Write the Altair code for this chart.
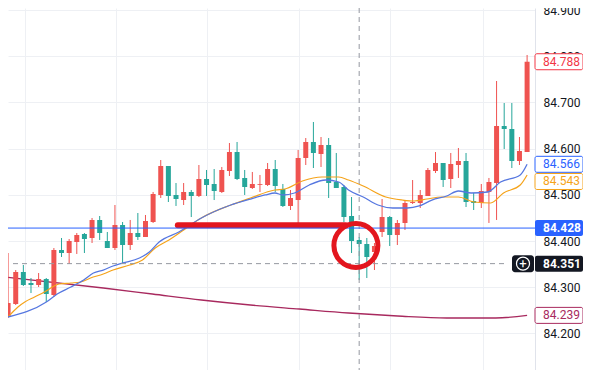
import altair as alt
import pandas as pd

# ---- candle data (index 0..68) ----
opens = [84.2355, 84.2636, 84.3329, 84.3091, 84.3048, 84.3177, 84.2831, 84.3805, 84.3740, 84.3978,
         84.4152, 84.4065, 84.4455, 84.4000, 84.3848, 84.4346, 84.3913, 84.4173, 84.4087, 84.4411,
         84.4996, 84.5623, 84.4996, 84.4887, 84.5061, 84.4974, 84.5342, 84.5234, 84.5061, 84.5515,
         84.5926, 84.5364, 84.5147, 84.5212, 84.5212, 84.5558, 84.5126, 84.4758, 84.4887, 84.5797,
         84.6143, 84.5883, 84.6078, 84.5277, 84.5169, 84.4541, 84.4022, 84.3935, 84.3762, 84.4195,
         84.4519, 84.4130, 84.4390, 84.4823, 84.4823, 84.4974, 84.5515, 84.5688, 84.5342, 84.5645,
         84.5732, 84.4866, 84.4823, 84.5061, 84.5255, 84.6489, 84.6424, 84.5732, 84.5926]
highs = [84.3740, 84.3372, 84.3481, 84.3199, 84.3307, 84.3199, 84.3848, 84.4065, 84.4043, 84.4173,
         84.4173, 84.4498, 84.4541, 84.4195, 84.4779, 84.4411, 84.4455, 84.4606, 84.4563, 84.5061,
         84.5753, 84.5623, 84.5255, 84.5255, 84.5104, 84.5645, 84.5537, 84.5558, 84.5602, 84.6121,
         84.6143, 84.5537, 84.5494, 84.5429, 84.5688, 84.5753, 84.5234, 84.5104, 84.5970, 84.6229,
         84.6576, 84.6251, 84.6229, 84.5905, 84.5212, 84.4952, 84.4087, 84.4065, 84.3957, 84.4909,
         84.4541, 84.4455, 84.4866, 84.5320, 84.5104, 84.5580, 84.5926, 84.5688, 84.5905, 84.6013,
         84.5905, 84.5039, 84.5234, 84.5364, 84.7463, 84.6987, 84.6987, 84.6251, 84.8026]
lows = [84.2333, 84.2615, 84.3026, 84.2874, 84.3004, 84.2680, 84.2788, 84.3654, 84.3502, 84.3719,
        84.3740, 84.3957, 84.4022, 84.3848, 84.3805, 84.3524, 84.3805, 84.4022, 84.4087, 84.4390,
        84.4931, 84.4844, 84.4758, 84.4779, 84.4519, 84.4952, 84.4974, 84.4887, 84.5039, 84.5407,
        84.5320, 84.4996, 84.5126, 84.5061, 84.5190, 84.5061, 84.4736, 84.4671, 84.4346, 84.5645,
        84.5580, 84.5602, 84.4931, 84.5147, 84.4411, 84.3740, 84.3156, 84.3199, 84.3372, 84.4087,
        84.3892, 84.3913, 84.4238, 84.4801, 84.4714, 84.4974, 84.5472, 84.5169, 84.5147, 84.5364,
        84.4736, 84.4671, 84.4714, 84.4390, 84.4455, 84.5991, 84.5580, 84.5645, 84.5926]
closes = [84.2658, 84.3329, 84.3048, 84.3048, 84.3177, 84.2853, 84.3805, 84.3740, 84.4000, 84.4130,
          84.4043, 84.4455, 84.4173, 84.3848, 84.4346, 84.3913, 84.4173, 84.4087, 84.4433, 84.5017,
          84.5623, 84.4974, 84.4909, 84.5061, 84.4974, 84.5342, 84.5212, 84.5082, 84.5537, 84.5926,
          84.5342, 84.5169, 84.5234, 84.5230, 84.5558, 84.5190, 84.4758, 84.4931, 84.5797, 84.6143,
          84.5905, 84.6078, 84.5255, 84.5147, 84.4519, 84.4000, 84.3935, 84.3654, 84.3892, 84.4519,
          84.4130, 84.4390, 84.4823, 84.4844, 84.4996, 84.5537, 84.5688, 84.5320, 84.5667, 84.5732,
          84.4844, 84.4823, 84.5082, 84.5277, 84.6489, 84.6424, 84.5732, 84.5948, 84.788]

# ---- moving averages (read at candle-index positions) ----
blue_x = [0, 5.01, 6.43, 8.23, 9.9, 11.18, 12.47, 13.75, 15.04, 17.22,
          18.51, 19.79, 22.37, 25.32, 29.18, 31.75, 33.68, 34.96, 35.99, 37.53,
          39.46, 41.65, 43.32, 44.6, 46.53, 48.46, 50.39, 52.31, 53.86, 55.53,
          57.46, 58.99, 60.67, 62.85, 64.52, 67.1, 68]
blue_v = [84.2355, 84.2680, 84.2853, 84.3004, 84.3156, 84.3307, 84.3372, 84.3459, 84.3524, 84.3632,
          84.3762, 84.3978, 84.4195, 84.4498, 84.4779, 84.4909, 84.4996, 84.5039, 84.4996, 84.5039,
          84.5212, 84.5320, 84.5277, 84.5104, 84.4952, 84.4779, 84.4714, 84.4714, 84.4758, 84.4887,
          84.4974, 84.5082, 84.5039, 84.5061, 84.5277, 84.5429, 84.566]
orange_x = [0, 1.29, 2.19, 3.47, 4.76, 6.04, 6.68, 8.23, 9.51, 10.8,
            12.47, 13.75, 15.94, 17.61, 19.28, 21.08, 23.01, 25.32, 29.18, 31.75,
            34.96, 36.25, 38.56, 41.13, 43.32, 44.6, 46.53, 49.49, 51.67, 53.21,
            54.88, 56.81, 58.99, 61.05, 63.24, 64.91, 67.1, 68]
orange_v = [84.2355, 84.2571, 84.2680, 84.2788, 84.2896, 84.3026, 84.3069, 84.3091, 84.3113, 84.3199,
            84.3286, 84.3372, 84.3481, 84.3589, 84.3848, 84.4022, 84.4238, 84.4498, 84.4779, 84.4931,
            84.5104, 84.5126, 84.5299, 84.5385, 84.5385, 84.5320, 84.5190, 84.4952, 84.4887, 84.4866,
            84.4909, 84.4952, 84.4952, 84.4844, 84.4823, 84.5039, 84.5212, 84.543]
maroon_x = [-0.4, 12.47, 18.9, 25.32, 31.75, 38.17, 44.6, 51.03, 57.46, 63.88, 68]
maroon_v = [84.3221, 84.2983, 84.2853, 84.2723, 84.2615, 84.2528, 84.2442, 84.2377, 84.2333, 84.2333, 84.239]

# ---- axes / annotations ----
y_ticks = [84.2, 84.3, 84.4, 84.5, 84.6, 84.7, 84.8, 84.9]
x_grid = [2.2, 14.15, 26.1, 38.05, 50.1, 62.2]
price_line = 84.428
cross_x = 46.0
cross_y = 84.351
cross_y_end = 65.1
mark_line_from, mark_line_to, mark_line_at = 22.24, 44.2, 84.434
circle_at_x, circle_at_y = 45.57, 84.3903

badge_text = ["84.788", "84.566", "84.543", "84.239"]
badge_at = [84.788, 84.566, 84.5288, 84.239]
badge_color = ["#f23645", "#2962ff", "#f5a31a", "#a8295e"]
solid_text = ["84.428", "84.351"]
solid_at = [84.428, 84.351]
solid_fill = ["#2962ff", "#131722"]

X_DOMAIN = [0.643, 68.38]
Y_DOMAIN = [84.12078, 84.90433]
xscale = alt.Scale(domain=X_DOMAIN, nice=False, zero=False)
yscale = alt.Scale(domain=Y_DOMAIN, nice=False, zero=False)
xaxis = alt.Axis(values=x_grid, grid=True, gridColor="#eef0f4", labels=False, ticks=False,
                 domain=False, title=None)
yaxis = alt.Axis(orient="right", values=y_ticks, format=".3f", grid=True, gridColor="#eef0f4",
                 ticks=False, domainColor="#e0e3eb", labelPadding=8, labelFontSize=12,
                 labelColor="#131722", labelFont="Roboto", title=None)


def X(f):
    return alt.X(f"{f}:Q", scale=xscale, axis=xaxis)


def Y(f):
    return alt.Y(f"{f}:Q", scale=yscale, axis=yaxis)


n = len(opens)
candles = pd.DataFrame({"i": list(range(n)), "o": opens, "h": highs, "l": lows, "c": closes})
candles["col"] = ["#ef5350" if c >= o else "#26a69a" for o, c in zip(opens, closes)]

wicks = alt.Chart(candles).mark_rule(clip=True, strokeWidth=1).encode(
    x=X("i"), y=Y("l"), y2=alt.Y2("h"), color=alt.Color("col:N", scale=None))
bodies = alt.Chart(candles).mark_bar(clip=True, size=5).encode(
    x=X("i"), y=Y("o"), y2=alt.Y2("c"), color=alt.Color("col:N", scale=None))


def ma(xs, vs, color, w):
    df = pd.DataFrame({"x": xs, "v": vs})
    return alt.Chart(df).mark_line(clip=True, color=color, strokeWidth=w,
                                   interpolate="monotone").encode(x=X("x"), y=Y("v"))


maroon = ma(maroon_x, maroon_v, "#a8295e", 1.3)
orange = ma(orange_x, orange_v, "#f5a31a", 1.2)
blue = ma(blue_x, blue_v, "#5677e0", 1.3)

hdash = alt.Chart(pd.DataFrame({"x0": [X_DOMAIN[0]], "x1": [cross_y_end], "v": [cross_y]})).mark_rule(
    color="#9598a1", strokeDash=[5, 4], strokeWidth=1).encode(x=X("x0"), x2=alt.X2("x1"), y=Y("v"))
vdash = alt.Chart(pd.DataFrame({"x": [cross_x]})).mark_rule(
    color="#9598a1", strokeDash=[5, 4], strokeWidth=1).encode(x=X("x"))

red_line = alt.Chart(pd.DataFrame({"x0": [mark_line_from], "x1": [mark_line_to], "v": [mark_line_at]})).mark_rule(
    color="#e3161e", strokeWidth=6, strokeCap="round").encode(x=X("x0"), x2=alt.X2("x1"), y=Y("v"))
pline = alt.Chart(pd.DataFrame({"v": [price_line]})).mark_rule(
    color="#2962ff", strokeWidth=1).encode(y=Y("v"))
circle = alt.Chart(pd.DataFrame({"x": [circle_at_x], "v": [circle_at_y]})).mark_point(
    shape="circle", filled=False, size=1936, strokeWidth=5, color="#e3161e", opacity=1).encode(
    x=X("x"), y=Y("v"))

badges = pd.DataFrame({"t": badge_text, "at": badge_at, "col": badge_color})
badge_box = alt.Chart(badges).mark_rect(yOffset=-8, y2Offset=8, cornerRadius=2, strokeWidth=1,
                                        fill="#ffffff").encode(
    x=alt.value(527), x2=alt.value(575), y=Y("at"), y2=alt.Y2("at"),
    stroke=alt.Stroke("col:N", scale=None))
badge_txt = alt.Chart(badges).mark_text(align="left", baseline="middle", fontSize=12, font="Roboto").encode(
    x=alt.value(535), y=Y("at"), text="t:N", color=alt.Color("col:N", scale=None))

solids = pd.DataFrame({"t": solid_text, "at": solid_at, "col": solid_fill})
solid_box = alt.Chart(solids).mark_rect(yOffset=-8, y2Offset=8, cornerRadius=2).encode(
    x=alt.value(527), x2=alt.value(575), y=Y("at"), y2=alt.Y2("at"),
    fill=alt.Fill("col:N", scale=None))
solid_txt = alt.Chart(solids).mark_text(align="left", baseline="middle", fontSize=12, font="Roboto",
                                        fontWeight="bold", color="#ffffff").encode(
    x=alt.value(535), y=Y("at"), text="t:N")

icon_df = pd.DataFrame({"at": [cross_y]})
icon_box = alt.Chart(icon_df).mark_rect(yOffset=-8.5, y2Offset=8.5, cornerRadius=3, fill="#131722").encode(
    x=alt.value(504), x2=alt.value(526), y=Y("at"), y2=alt.Y2("at"))
icon_ring = alt.Chart(icon_df).mark_point(shape="circle", filled=False, size=170, strokeWidth=1.2,
                                          color="#ffffff", opacity=1).encode(x=alt.value(515), y=Y("at"))
icon_plus = alt.Chart(icon_df).mark_text(text="+", fontSize=13, font="Roboto", color="#ffffff",
                                         align="center", baseline="middle", dy=0).encode(
    x=alt.value(515), y=Y("at"))

chart = alt.layer(
    maroon, wicks, bodies, orange, blue, hdash, vdash, red_line, pline, circle,
    badge_box, badge_txt, solid_box, solid_txt, icon_box, icon_ring, icon_plus
).properties(
    width=527, height=362,
    autosize=alt.AutoSizeParams(type="none"),
    padding={"left": 0, "top": 0, "right": 48, "bottom": 0},
    background="#ffffff",
).configure_view(stroke=None)

chart.save("out.html", embed_options={"renderer": "svg", "actions": False})
